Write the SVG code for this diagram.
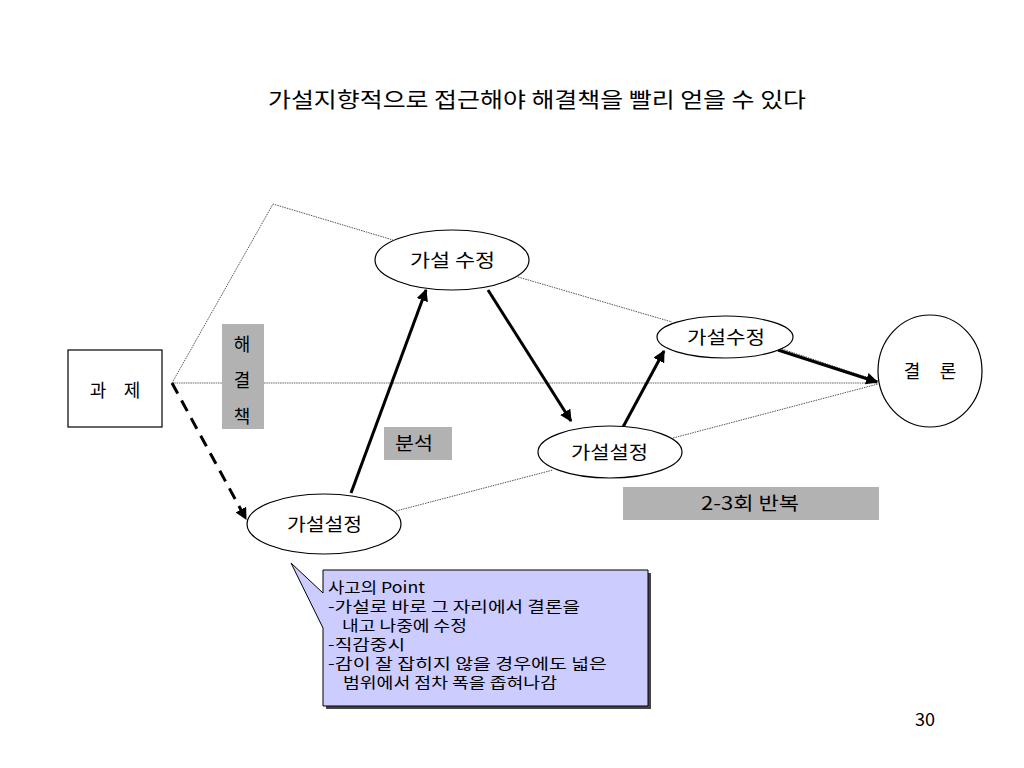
<svg xmlns="http://www.w3.org/2000/svg" width="1024" height="768" viewBox="0 0 1024 768">
<defs>
<marker id="ah" viewBox="0 0 10 10" refX="9" refY="5" markerWidth="4" markerHeight="4" orient="auto" markerUnits="strokeWidth">
<path d="M0,0 L10,5 L0,10 z" fill="#000"/>
</marker>
<style>
text{font-family:"Noto Sans CJK KR","Liberation Sans",sans-serif;fill:#000}
.node{fill:#fff;stroke:#000;stroke-width:1.2}
.gray{fill:#b2b2b2}
.dot{fill:none;stroke:#555;stroke-width:1;stroke-dasharray:1.5 1}
.hdot{fill:none;stroke:#999;stroke-width:1.5;stroke-dasharray:1.5 0.8}
.arr{fill:none;stroke:#000;stroke-width:3;marker-end:url(#ah)}
.lbl{font-size:18px;text-anchor:middle}
.call{font-size:15px}
</style>
</defs>
<rect width="1024" height="768" fill="#fff"/>
<text x="268" y="107" font-size="21" textLength="538" lengthAdjust="spacingAndGlyphs">가설지향적으로 접근해야 해결책을 빨리 얻을 수 있다</text>

<g id="connectors">
<polyline class="dot" points="172,383 273,204 393,240"/>
<line class="dot" x1="518" y1="277" x2="672" y2="322"/>
<line class="dot" x1="770" y1="345" x2="878" y2="381"/>
<line class="hdot" x1="172" y1="383" x2="878" y2="383"/>
<line class="dot" x1="396" y1="511" x2="553" y2="470"/>
<line class="dot" x1="673" y1="438" x2="878" y2="384"/>
<line class="arr" x1="172" y1="383" x2="246" y2="519" stroke-dasharray="12 8"/>
<line class="arr" x1="351" y1="493" x2="426" y2="290"/>
<line class="arr" x1="488" y1="290" x2="571" y2="421"/>
<line class="arr" x1="623" y1="427" x2="664" y2="351"/>
<line class="arr" x1="778" y1="350" x2="877" y2="382"/>
</g>

<g id="task">
<rect class="node" x="68" y="350" width="94" height="77"/>
<text class="lbl" x="98" y="397">과</text>
<text class="lbl" x="132" y="397">제</text>
</g>
<g id="solution-label">
<rect class="gray" x="222" y="324" width="42" height="105"/>
<text class="lbl" x="242" y="351">해</text>
<text class="lbl" x="242" y="387">결</text>
<text class="lbl" x="242" y="423">책</text>
</g>
<g id="analysis-label">
<rect class="gray" x="384" y="427" width="68" height="33"/>
<text x="395" y="450" font-size="18" textLength="38" lengthAdjust="spacingAndGlyphs">분석</text>
</g>
<g id="repeat-label">
<rect class="gray" x="623" y="487" width="256" height="33"/>
<text x="701" y="510" font-size="18" textLength="98" lengthAdjust="spacingAndGlyphs">2-3회 반복</text>
</g>
<g id="hypo-revise-1">
<ellipse class="node" cx="452" cy="260" rx="77" ry="30"/>
<text x="410" y="267" font-size="18" textLength="85" lengthAdjust="spacingAndGlyphs">가설 수정</text>
</g>
<g id="hypo-set-1">
<ellipse class="node" cx="324" cy="524" rx="77" ry="30"/>
<text x="287" y="531" font-size="18" textLength="75" lengthAdjust="spacingAndGlyphs">가설설정</text>
</g>
<g id="hypo-set-2">
<ellipse class="node" cx="610" cy="452" rx="72" ry="26"/>
<text x="571" y="459" font-size="18" textLength="77" lengthAdjust="spacingAndGlyphs">가설설정</text>
</g>
<g id="hypo-revise-2">
<ellipse class="node" cx="725" cy="337" rx="68" ry="21"/>
<text x="687" y="344" font-size="18" textLength="78" lengthAdjust="spacingAndGlyphs">가설수정</text>
</g>
<g id="conclusion">
<ellipse class="node" cx="930" cy="371" rx="52" ry="56"/>
<text class="lbl" x="912" y="378">결</text>
<text class="lbl" x="948" y="378">론</text>
</g>
<g id="callout">
<rect x="326" y="573" width="325" height="136" fill="#444"/>
<path d="M323,570 H648 V706 H323 V628 L291,563 L323,593 Z" fill="#ccccff" stroke="#000" stroke-width="1"/>
<text class="call" x="328" y="593" textLength="97" lengthAdjust="spacingAndGlyphs">사고의 Point</text>
<text class="call" x="328" y="612" textLength="252" lengthAdjust="spacingAndGlyphs">-가설로 바로 그 자리에서 결론을</text>
<text class="call" x="342" y="631" textLength="125" lengthAdjust="spacingAndGlyphs">내고 나중에 수정</text>
<text class="call" x="328" y="650" textLength="77" lengthAdjust="spacingAndGlyphs">-직감중시</text>
<text class="call" x="328" y="669" textLength="279" lengthAdjust="spacingAndGlyphs">-감이 잘 잡히지 않을 경우에도  넓은</text>
<text class="call" x="343" y="688" textLength="214" lengthAdjust="spacingAndGlyphs">범위에서 점차 폭을 좁혀나감</text>
</g>
<text x="915" y="726" font-size="18" font-family="Liberation Sans, sans-serif">30</text>
</svg>
